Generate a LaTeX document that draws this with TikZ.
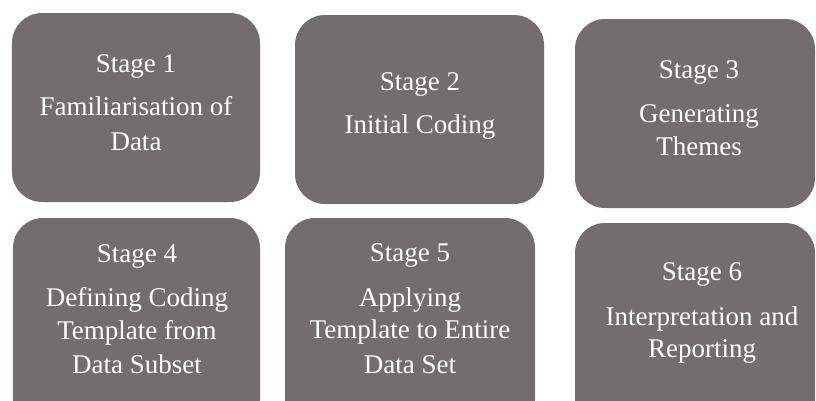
\documentclass[tikz,border=0pt]{standalone}
\usepackage{fontspec}
\setmainfont{Liberation Serif}
\definecolor{boxgray}{RGB}{115,110,109}
\begin{document}
\begin{tikzpicture}[x=1bp,y=-1bp,
  stagebox/.style={rectangle, rounded corners=30bp, fill=boxgray, draw=none, inner sep=0pt},
  ln/.style={anchor=base, text=white, inner sep=0pt, font=\fontsize{27bp}{32bp}\selectfont}]
\useasboundingbox (0,0) rectangle (816,400);
\clip (0,0) rectangle (816,400);
\node[stagebox, minimum width=248bp, minimum height=189bp] (b1) at (136,107.5) {};
\node[stagebox, minimum width=249bp, minimum height=189bp] (b2) at (419.5,109.5) {};
\node[stagebox, minimum width=240bp, minimum height=189bp] (b3) at (695,113.5) {};
\node[stagebox, minimum width=247bp, minimum height=212bp] (b4) at (136.5,324) {};
\node[stagebox, minimum width=250bp, minimum height=212bp] (b5) at (410,324) {};
\node[stagebox, minimum width=240bp, minimum height=207bp] (b6) at (695,326.5) {};
% box 1
\node[ln] (t1a) at (136,72) {Stage 1};
\node[ln] (t1b) at (136,115) {Familiarisation of};
\node[ln] (t1c) at (136,150) {Data};
% box 2
\node[ln] (t2a) at (420,90) {Stage 2};
\node[ln] (t2b) at (420,133) {Initial Coding};
% box 3
\node[ln] (t3a) at (699,78) {Stage 3};
\node[ln] (t3b) at (699,122) {Generating};
\node[ln] (t3c) at (699,155) {Themes};
% box 4
\node[ln] (t4a) at (137,262) {Stage 4};
\node[ln] (t4b) at (137,306) {Defining Coding};
\node[ln] (t4c) at (137,339) {Template from};
\node[ln] (t4d) at (137,373) {Data Subset};
% box 5
\node[ln] (t5a) at (410,261) {Stage 5};
\node[ln] (t5b) at (410,306) {Applying};
\node[ln] (t5c) at (410,338) {Template to Entire};
\node[ln] (t5d) at (410,373) {Data Set};
% box 6
\node[ln] (t6a) at (702,280) {Stage 6};
\node[ln] (t6b) at (702,325) {Interpretation and};
\node[ln] (t6c) at (702,357) {Reporting};
\end{tikzpicture}
\end{document}
